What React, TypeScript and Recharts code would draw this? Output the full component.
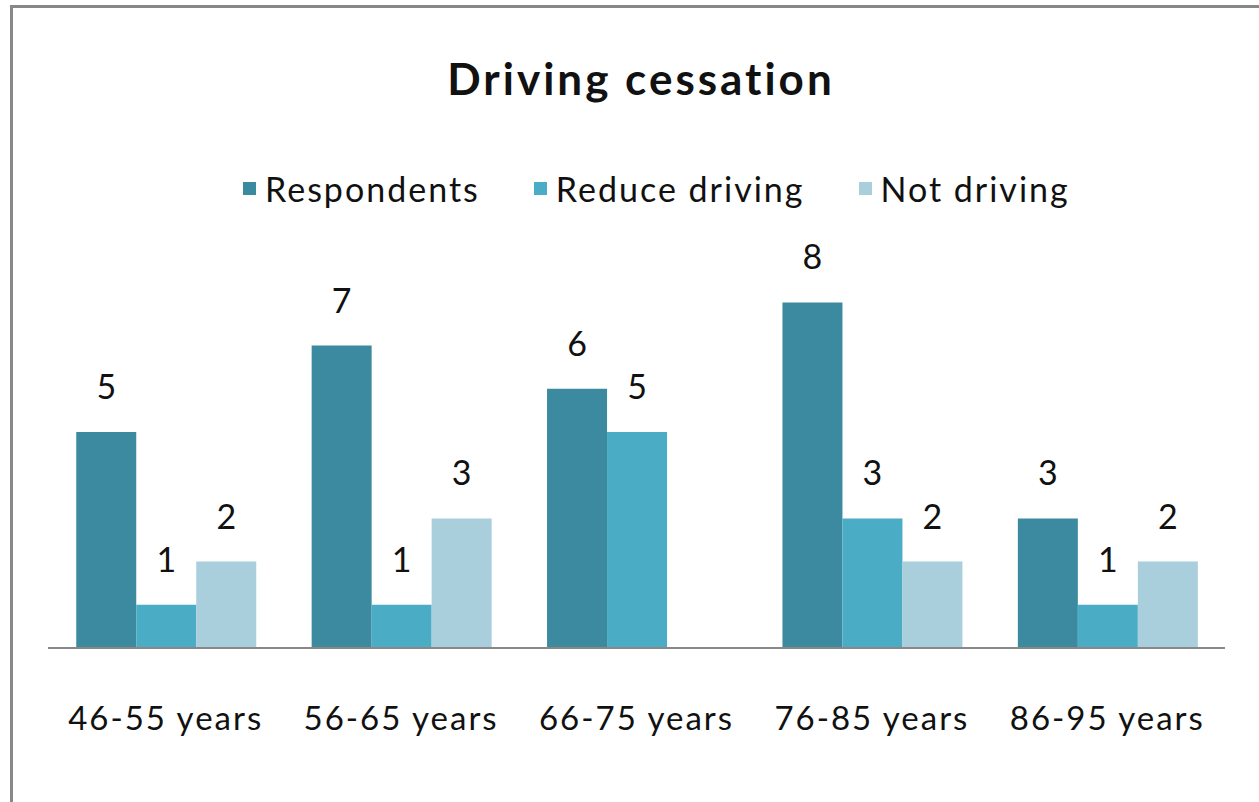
import React from "react";
import { Bar, BarChart, XAxis, YAxis, LabelList } from "recharts";

const categories = ["46-55 years", "56-65 years", "66-75 years", "76-85 years", "86-95 years"];
const respondents = [5, 7, 6, 8, 3];
const reduceDriving = [1, 1, 5, 3, 1];
const notDriving = [2, 3, 0, 2, 2];

const seriesNames = ["Respondents", "Reduce driving", "Not driving"];
const seriesColors = ["#3C8AA0", "#4BACC6", "#A9CEDC"];

const data = categories.map((name, i) => ({
  name,
  respondents: respondents[i],
  reduce: reduceDriving[i],
  notDriving: notDriving[i],
}));

const FONT = "Lato, 'Open Sans', sans-serif";

const hideZero = (v: any) => (v === 0 ? "" : v);

const Tick = (props: any) => {
  const { x, y, payload } = props;
  return (
    <text x={x} y={y + 74} textAnchor="middle" fontFamily={FONT} fontSize={33} letterSpacing={2} fill="#111">
      {payload.value}
    </text>
  );
};

const labelProps = {
  position: "top" as const,
  offset: 33,
  fontFamily: FONT,
  fontSize: 34,
  fill: "#111",
  formatter: hideZero,
};

export default function App() {
  return (
    <div style={{ position: "absolute", left: 0, top: 0, width: 1259, height: 802, background: "#fff", overflow: "hidden" }}>
      <div
        style={{
          position: "absolute",
          left: 10,
          top: 5,
          width: 1300,
          height: 900,
          borderLeft: "3px solid #888",
          borderTop: "3px solid #888",
        }}
      />
      <div
        style={{
          position: "absolute",
          left: 0,
          width: 1259,
          top: 52,
          textAlign: "center",
          fontFamily: FONT,
          fontWeight: 700,
          fontSize: 44,
          lineHeight: 1.2,
          letterSpacing: 3,
          color: "#111",
          paddingLeft: 23,
          boxSizing: "border-box",
        }}
      >
        Driving cessation
      </div>
      <div
        style={{
          position: "absolute",
          left: 243,
          top: 168,
          display: "flex",
          alignItems: "center",
          gap: 54,
          fontFamily: FONT,
          fontSize: 34,
          lineHeight: "41px",
          letterSpacing: 2,
          color: "#111",
          whiteSpace: "nowrap",
        }}
      >
        {seriesNames.map((s, i) => (
          <div key={s} style={{ display: "flex", alignItems: "center" }}>
            <span style={{ width: 13, height: 13, background: seriesColors[i], marginRight: 9, display: "inline-block" }} />
            <span>{s}</span>
          </div>
        ))}
      </div>
      <BarChart
        width={1259}
        height={802}
        data={data}
        margin={{ top: 216, right: 34, left: 48, bottom: 0 }}
        barCategoryGap="12%"
        barGap={0}
        style={{ position: "absolute", left: 0, top: 0 }}
      >
        <XAxis
          dataKey="name"
          height={154}
          axisLine={{ stroke: "#888", strokeWidth: 2 }}
          tickLine={false}
          tick={<Tick />}
          interval={0}
        />
        <YAxis hide domain={[0, 10]} />
        <Bar dataKey="respondents" name={seriesNames[0]} fill={seriesColors[0]} isAnimationActive={false}>
          <LabelList dataKey="respondents" {...labelProps} />
        </Bar>
        <Bar dataKey="reduce" name={seriesNames[1]} fill={seriesColors[1]} isAnimationActive={false}>
          <LabelList dataKey="reduce" {...labelProps} />
        </Bar>
        <Bar dataKey="notDriving" name={seriesNames[2]} fill={seriesColors[2]} isAnimationActive={false}>
          <LabelList dataKey="notDriving" {...labelProps} />
        </Bar>
      </BarChart>
    </div>
  );
}
